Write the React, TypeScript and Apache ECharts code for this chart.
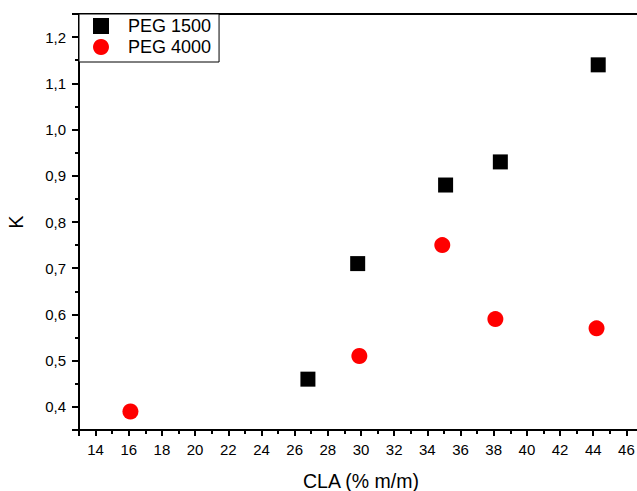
import React, { useEffect, useRef } from "react";
import * as echarts from "echarts";

const peg1500X = [26.8, 29.8, 35.1, 38.4, 44.3];
const peg1500Y = [0.46, 0.71, 0.88, 0.93, 1.14];
const peg4000X = [16.1, 29.9, 34.9, 38.1, 44.2];
const peg4000Y = [0.39, 0.51, 0.75, 0.59, 0.57];
const seriesNames = ["PEG 1500", "PEG 4000"];
const xTitle = "CLA (% m/m)";
const yTitle = "K";

const FONT = "Liberation Sans, Arial, Helvetica, sans-serif";

export default function App() {
  const ref = useRef<HTMLDivElement>(null);
  useEffect(() => {
    if (!ref.current) return;
    const chart = echarts.init(ref.current, null, { renderer: "svg" });
    const axisLineStyle = { color: "#000", width: 2 };
    chart.setOption({
      animation: false,
      backgroundColor: "#fff",
      textStyle: { fontFamily: FONT, color: "#000" },
      grid: {
        left: 79,
        top: 14,
        right: -6,
        bottom: 61,
        show: true,
        borderColor: "#000",
        borderWidth: 2,
        backgroundColor: "transparent",
        outerBoundsMode: "none",
        containLabel: false,
      },
      legend: {
        orient: "vertical",
        left: 79,
        top: 14,
        backgroundColor: "#fff",
        borderColor: "#000",
        borderWidth: 1,
        padding: [3, 8, 6, 14],
        itemGap: 3,
        itemWidth: 16,
        itemHeight: 16,
        textStyle: { fontFamily: FONT, fontSize: 18, color: "#000", padding: [0, 0, 0, 14] },
        data: [
          { name: seriesNames[0], icon: "rect" },
          { name: seriesNames[1], icon: "circle" },
        ],
      },
      xAxis: {
        type: "value",
        min: 13,
        max: 47,
        minInterval: 2,
        maxInterval: 2,
        name: xTitle,
        nameLocation: "middle",
        nameGap: 41,
        nameTextStyle: { fontFamily: FONT, fontSize: 19.5, color: "#000" },
        axisLine: { show: true, lineStyle: axisLineStyle },
        axisTick: { show: true, length: 6, lineStyle: { color: "#000", width: 2 } },
        minorTick: { show: true, splitNumber: 2, length: 4, lineStyle: { color: "#000", width: 2 } },
        splitLine: { show: false },
        axisLabel: {
          fontFamily: FONT,
          fontSize: 15,
          color: "#000",
          margin: 12,
          showMinLabel: false,
          showMaxLabel: false,
          formatter: (v: number) => (Math.abs(v % 2) < 1e-6 ? String(v) : ""),
        },
      },
      yAxis: {
        type: "value",
        min: 0.35,
        max: 1.25,
        minInterval: 0.1,
        maxInterval: 0.1,
        name: yTitle,
        nameLocation: "middle",
        nameGap: 53,
        nameTextStyle: { fontFamily: FONT, fontSize: 20, color: "#000" },
        axisLine: { show: true, lineStyle: axisLineStyle },
        axisTick: { show: true, length: 7, lineStyle: { color: "#000", width: 2 } },
        minorTick: { show: true, splitNumber: 2, length: 4, lineStyle: { color: "#000", width: 2 } },
        splitLine: { show: false },
        axisLabel: {
          fontFamily: FONT,
          fontSize: 15,
          color: "#000",
          margin: 13,
          showMinLabel: false,
          showMaxLabel: false,
          formatter: (v: number) => {
            const r = Math.round(v * 10);
            if (Math.abs(v * 10 - r) > 1e-6) return "";
            return (r / 10).toFixed(1).replace(".", ",");
          },
        },
      },
      series: [
        {
          name: seriesNames[0],
          type: "scatter",
          symbol: "rect",
          symbolSize: 15,
          itemStyle: { color: "#000", opacity: 1 },
          data: peg1500X.map((x, i) => [x, peg1500Y[i]]),
        },
        {
          name: seriesNames[1],
          type: "scatter",
          symbol: "circle",
          symbolSize: 16,
          itemStyle: { color: "#ff0000", opacity: 1 },
          data: peg4000X.map((x, i) => [x, peg4000Y[i]]),
        },
      ],
    });
    return () => chart.dispose();
  }, []);
  return <div ref={ref} style={{ width: 637, height: 491, position: "absolute", left: 0, top: 0 }} />;
}
